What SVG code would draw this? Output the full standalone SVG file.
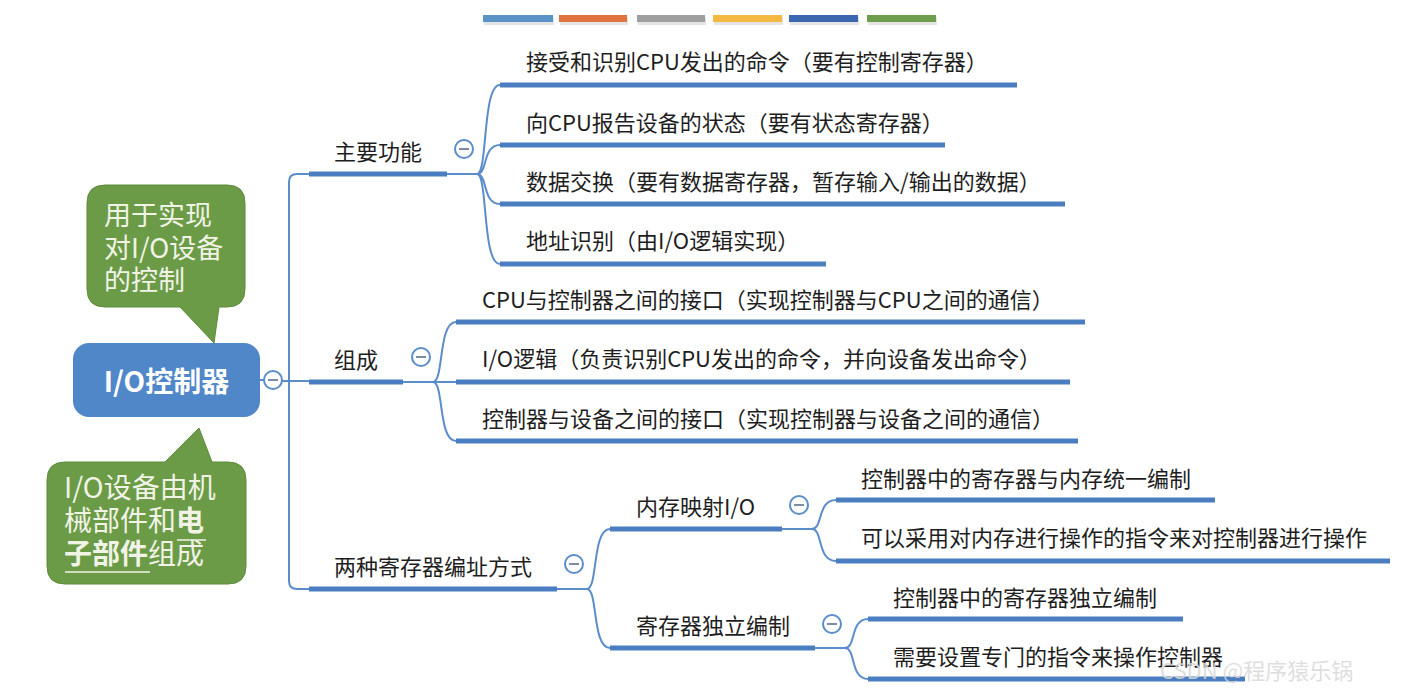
<svg xmlns="http://www.w3.org/2000/svg" width="1402" height="699" viewBox="0 0 1402 699">
<style>
.t{font-family:"Noto Sans CJK SC","Noto Sans",sans-serif;font-size:22px;fill:#1e1e1e}
.c{font-family:"Noto Sans CJK SC","Noto Sans",sans-serif;font-size:27px;fill:#f1f3e6}
.ul{stroke:#4b7ec0;stroke-width:5;fill:none}
.cn{stroke:#5b8dcb;stroke-width:2;fill:none}
.tog circle{fill:#fff;stroke:#5b8dcb;stroke-width:2}
.tog line{stroke:#5b6f8e;stroke-width:1.6}
</style>
<rect width="1402" height="699" fill="#fff"/>
<g id="title-bars">
<rect x="484" y="17" width="70" height="8" fill="#e4e4e4"/>
<rect x="483" y="15" width="70" height="7" fill="#5b93c8"/>
<rect x="560" y="17" width="68" height="8" fill="#e4e4e4"/>
<rect x="559" y="15" width="68" height="7" fill="#e0743e"/>
<rect x="638" y="17" width="68" height="8" fill="#e4e4e4"/>
<rect x="637" y="15" width="68" height="7" fill="#9e9e9e"/>
<rect x="714" y="17" width="69" height="8" fill="#e4e4e4"/>
<rect x="713" y="15" width="69" height="7" fill="#f4b942"/>
<rect x="790" y="17" width="69" height="8" fill="#e4e4e4"/>
<rect x="789" y="15" width="69" height="7" fill="#3b66b0"/>
<rect x="868" y="17" width="69" height="8" fill="#e4e4e4"/>
<rect x="867" y="15" width="69" height="7" fill="#6e9e4c"/>
</g>
<g id="connectors">
<path class="cn" d="M260,380 L264,380 M282,381 L309,381"/>
<path class="cn" d="M309,174 L297,174 Q289,174 289,182 L289,581 Q289,589 297,589 L309,589"/>
<path class="cn" d="M447,174 L477,174 M477,174 C488,174 482,85 500,85 M477,174 C488,174 482,145 500,145 M477,174 C488,174 482,204 500,204 M477,174 C488,174 482,264 500,264"/>
<path class="cn" d="M403,382 L456,382 M433,382 C444,382 438,322 456,322 M433,382 C444,382 438,441 456,441"/>
<path class="cn" d="M557,589 L587,589 M587,589 C598,589 592,529 610,529 M587,589 C598,589 592,648 610,648"/>
<path class="cn" d="M782,529 L812,529 M812,529 C823,529 817,500 836,500 M812,529 C823,529 817,561 836,561"/>
<path class="cn" d="M815,648 L845,648 M845,648 C856,648 850,619 868,619 M845,648 C856,648 850,679 868,679"/>
</g>
<g id="root">
<rect x="73" y="343" width="187" height="74" rx="16" fill="#5087c8"/>
<text x="166.5" y="392" text-anchor="middle" style="font-family:'Noto Sans CJK SC','Noto Sans',sans-serif;font-size:28px;font-weight:bold;fill:#fff">I/O控制器</text>
<g class="tog"><circle cx="273" cy="380" r="9"/><line x1="268" y1="380" x2="278" y2="380"/></g>
</g>
<g id="note-top">
<path d="M105,185 L227,185 Q245,185 245,203 L245,289 Q245,307 227,307 L219,307 L214,343 L180,307 L105,307 Q87,307 87,289 L87,203 Q87,185 105,185 Z" fill="#6b9b47" stroke="#5e8a3d" stroke-width="1"/>
<text class="c" x="104" y="225">用于实现</text>
<text class="c" x="104" y="258">对I/O设备</text>
<text class="c" x="104" y="290">的控制</text>
</g>
<g id="note-bottom">
<path d="M65,462 L165,462 L199,428 L212,462 L228,462 Q246,462 246,480 L246,566 Q246,584 228,584 L65,584 Q47,584 47,566 L47,480 Q47,462 65,462 Z" fill="#6b9b47" stroke="#5e8a3d" stroke-width="1"/>
<text class="c" x="64" y="498" style="font-size:28px">I/O设备由机</text>
<text class="c" x="64" y="531" style="font-size:28px">械部件和<tspan font-weight="bold">电</tspan></text>
<text class="c" x="64" y="564" style="font-size:28px"><tspan font-weight="bold">子部件</tspan>组成</text>
<line x1="177" y1="540" x2="206" y2="540" stroke="#f1f3e6" stroke-width="1.5"/>
<line x1="65" y1="572" x2="150" y2="572" stroke="#f1f3e6" stroke-width="1.5"/>
</g>
<g id="n-func">
<text class="t" x="334" y="160">主要功能</text>
<line class="ul" x1="309" y1="174" x2="447" y2="174"/>
<g class="tog"><circle cx="464" cy="149" r="9"/><line x1="459" y1="149" x2="469" y2="149"/></g>
</g>
<g id="n-f1"><text class="t" x="526" y="70">接受和识别CPU发出的命令（要有控制寄存器）</text><line class="ul" x1="500" y1="85" x2="1017" y2="85"/></g>
<g id="n-f2"><text class="t" x="526" y="131">向CPU报告设备的状态（要有状态寄存器）</text><line class="ul" x1="500" y1="145" x2="945" y2="145"/></g>
<g id="n-f3"><text class="t" x="526" y="190">数据交换（要有数据寄存器，暂存输入/输出的数据）</text><line class="ul" x1="500" y1="204" x2="1065" y2="204"/></g>
<g id="n-f4"><text class="t" x="526" y="249">地址识别（由I/O逻辑实现）</text><line class="ul" x1="500" y1="264" x2="826" y2="264"/></g>
<g id="n-comp">
<text class="t" x="334" y="368">组成</text>
<line class="ul" x1="309" y1="382" x2="403" y2="382"/>
<g class="tog"><circle cx="421" cy="357" r="9"/><line x1="416" y1="357" x2="426" y2="357"/></g>
</g>
<g id="n-c1"><text class="t" x="482" y="308">CPU与控制器之间的接口（实现控制器与CPU之间的通信）</text><line class="ul" x1="456" y1="322" x2="1085" y2="322"/></g>
<g id="n-c2"><text class="t" x="482" y="367">I/O逻辑（负责识别CPU发出的命令，并向设备发出命令）</text><line class="ul" x1="456" y1="382" x2="1070" y2="382"/></g>
<g id="n-c3"><text class="t" x="482" y="427">控制器与设备之间的接口（实现控制器与设备之间的通信）</text><line class="ul" x1="456" y1="441" x2="1078" y2="441"/></g>
<g id="n-addr">
<text class="t" x="334" y="575">两种寄存器编址方式</text>
<line class="ul" x1="309" y1="589" x2="557" y2="589"/>
<g class="tog"><circle cx="574" cy="564" r="9"/><line x1="569" y1="564" x2="579" y2="564"/></g>
</g>
<g id="n-mmio">
<text class="t" x="636" y="515">内存映射I/O</text>
<line class="ul" x1="610" y1="529" x2="782" y2="529"/>
<g class="tog"><circle cx="799" cy="505" r="9"/><line x1="794" y1="505" x2="804" y2="505"/></g>
</g>
<g id="n-m1"><text class="t" x="861" y="487">控制器中的寄存器与内存统一编制</text><line class="ul" x1="836" y1="500" x2="1215" y2="500"/></g>
<g id="n-m2"><text class="t" x="861" y="546">可以采用对内存进行操作的指令来对控制器进行操作</text><line class="ul" x1="836" y1="561" x2="1390" y2="561"/></g>
<g id="n-indep">
<text class="t" x="636" y="634">寄存器独立编制</text>
<line class="ul" x1="610" y1="648" x2="815" y2="648"/>
<g class="tog"><circle cx="832" cy="624" r="9"/><line x1="827" y1="624" x2="837" y2="624"/></g>
</g>
<g id="n-i1"><text class="t" x="893" y="606">控制器中的寄存器独立编制</text><line class="ul" x1="868" y1="619" x2="1183" y2="619"/></g>
<g id="n-i2"><text class="t" x="893" y="665">需要设置专门的指令来操作控制器</text><line class="ul" x1="868" y1="679" x2="1245" y2="679"/></g>
<text x="1160" y="679" style="font-family:'Noto Sans CJK SC','Noto Sans',sans-serif;font-size:22px;fill:#d8d8d8;fill-opacity:0.85">CSDN @程序猿乐锅</text>
</svg>
